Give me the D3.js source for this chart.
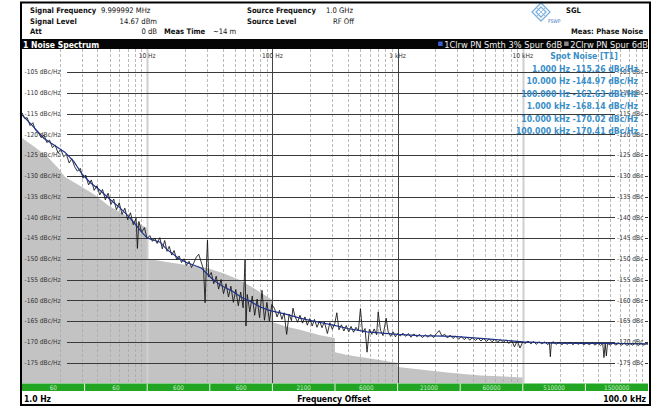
<!DOCTYPE html>
<html><head><meta charset="utf-8">
<script src="https://cdn.jsdelivr.net/npm/d3@7"></script>
<style>
html,body{margin:0;padding:0;background:#fff;}
svg{display:block;}
text{font-family:"DejaVu Sans Condensed","DejaVu Sans","Liberation Sans",sans-serif;}
</style></head>
<body>
<svg id="c" width="656" height="407"></svg>
<script>
// ---------------- data ----------------
const yTicks = [-105,-110,-115,-120,-125,-130,-135,-140,-145,-150,-155,-160,-165,-170,-175];
const decadeLabels = [[10,"10 Hz"],[100,"100 Hz"],[1000,"1 kHz"],[10000,"10 kHz"]];
const segmentLabels = ["60","60","600","600","2100","6000","21000","60000","510000","1500000"];
const spotFreqLabels = ["1.000 Hz","10.000 Hz","100.000 Hz","1.000 kHz","10.000 kHz","100.000 kHz"];
const spotValues = [-115.26,-144.97,-162.63,-168.14,-170.02,-170.41];

// grey area (frequency, dBc of upper edge)
const greyArea = [[1,-120.9],[1.27,-123.1],[1.61,-125.5],[1.94,-128.1],[2.21,-130.3],[3.01,-132.7],[3.83,-134.6],
 [4.86,-137.1],[6.28,-139],[8.0,-141.1],[10,-142.6],[10,-150],[16.1,-151],[30,-152.2],[40,-153.4],[55,-155.1],
 [75,-157.5],[100,-159.9],[100,-165.2],[130,-166.4],[166,-167.1],[240,-168.4],[316,-169.1],[316,-172.5],
 [396,-173.2],[720,-174.4],[1000,-175.1],[1000,-176.1],[2490,-177.4],[4580,-178.1],[10000,-178.6],[10000,-180]];

// trace 1 : smoothed (blue)
const smoothTrace = [[1,-115.3],[1.2,-117.8],[1.5,-121],[1.8,-122.6],[2.2,-124.3],[2.6,-126.6],[3.0,-129.5],
 [3.5,-131.6],[4.2,-133.5],[5,-135.6],[6,-137.6],[7,-139.6],[8,-141.6],[9,-143.5],[10,-145],[11,-145.4],
 [12.7,-146],[14.4,-147.8],[16,-148.8],[18,-150],[21,-151],[24,-151.6],[27,-152.2],[30,-153.6],[34,-155.2],
 [40,-156.6],[48,-157.8],[56,-159.2],[66,-160.2],[80,-161.6],[92,-162.3],[100,-162.6],[130,-163.4],
 [166,-164.3],[220,-165.1],[306,-166],[400,-166.8],[570,-167.6],[1000,-168.2],[1500,-168.5],[2800,-168.7],
 [5200,-169.3],[10000,-170],[17600,-170.3],[30000,-170.4],[50000,-170.4],[100000,-170.5]];

// trace 2 : raw with spurs (black)
const rawTrace = [[1.00,-114.8],[1.05,-116.2],[1.10,-116.0],[1.16,-117.9],[1.22,-117.2],[1.28,-119.0],[1.35,-119.6],
 [1.42,-120.8],[1.50,-120.2],[1.58,-122.0],[1.66,-121.4],[1.75,-123.2],[1.84,-122.6],[1.94,-124.5],[2.04,-123.6],
 [2.15,-125.4],[2.26,-124.8],[2.38,-126.9],[2.50,-125.9],[2.63,-127.8],[2.77,-128.9],[2.92,-128.2],[3.07,-130.6],
 [3.23,-129.8],[3.40,-132.2],[3.58,-131.0],[3.77,-133.5],[3.97,-132.4],[4.18,-134.6],[4.40,-133.3],[4.63,-135.8],
 [4.87,-134.2],[5.13,-136.9],[5.40,-135.6],[5.68,-138.2],[5.98,-136.5],[6.30,-139.3],[6.63,-137.8],[6.98,-140.6],
 [7.35,-138.9],[7.74,-141.8],[8.15,-140.2],[8.35,-147.5],[8.58,-141.0],[9.03,-143.6],[9.50,-142.5],[10.0,-145.2],
 [10.5,-144.4],[11.0,-145.8],[11.5,-145.0],[12.0,-146.3],[12.6,-144.9],[13.2,-147.6],[13.8,-145.6],[14.4,-148.2],
 [15.0,-147.0],[15.7,-149.1],[16.4,-148.0],[17.2,-150.2],[18.0,-149.3],[18.8,-150.9],[19.7,-150.0],[20.6,-151.6],
 [21.6,-150.6],[22.6,-152.1],[23.6,-150.9],[24.7,-149.6],[25.8,-148.9],[27.0,-150.8],[28.2,-152.6],[29.0,-160.6],
 [29.6,-153.0],[30.3,-145.5],[31.0,-154.4],[32.5,-153.3],[34.0,-156.0],[35.6,-154.2],[37.2,-157.3],[38.9,-155.0],
 [40.7,-158.4],[42.6,-156.0],[44.6,-159.2],[46.6,-156.6],[48.8,-160.5],[51.0,-157.4],[53.4,-161.3],[55.8,-158.0],
 [58.4,-161.8],[60.5,-150.3],[61.5,-166.2],[63.0,-158.6],[66.0,-162.8],[69.0,-159.0],[72.2,-163.6],[75.5,-159.7],
 [79.0,-164.2],[82.6,-157.6],[86.4,-164.8],[90.4,-160.5],[94.6,-165.0],[99.0,-161.0],
 [104,-162.0],[109,-164.0],[114,-162.4],[119,-164.6],[124,-163.0],[130,-168.2],[136,-163.3],[142,-164.9],[146,-161.9],
 [152,-164.0],[159,-165.3],[166,-163.6],[174,-165.5],[182,-164.0],[190,-166.0],[199,-164.4],[208,-166.2],[217,-164.6],
 [227,-166.5],[238,-165.0],[249,-166.6],[260,-165.2],[275,-168.0],[288,-165.4],[301,-167.0],[315,-165.6],[327,-163.0],
 [340,-167.1],[356,-165.9],[372,-167.4],[389,-166.1],[407,-167.6],[425,-166.3],[445,-167.7],[465,-166.5],[486,-167.4],
 [505,-162.0],[525,-167.8],[550,-166.8],[570,-172.5],[595,-167.0],[622,-168.2],[650,-166.9],[680,-168.3],[700,-162.8],
 [730,-167.2],[765,-168.5],[810,-164.3],[840,-167.5],[880,-168.7],[920,-167.6],[960,-168.8],[1000,-168.0],
 [1050,-168.6],[1100,-167.9],[1160,-168.7],[1220,-168.0],[1280,-168.9],[1350,-168.1],[1420,-168.8],[1500,-168.2],
 [1580,-169.0],[1660,-168.3],[1750,-168.9],[1840,-168.2],[1940,-169.0],[2040,-168.0],[2150,-167.3],[2260,-168.6],
 [2380,-168.2],[2500,-169.1],[2630,-168.4],[2770,-169.2],[2920,-168.6],[3070,-169.4],[3230,-168.7],[3400,-169.5],
 [3580,-168.9],[3770,-169.6],[3970,-169.0],[4180,-169.7],[4400,-169.1],[4630,-169.8],[4870,-169.2],[5130,-169.9],
 [5400,-169.3],[5680,-170.0],[5980,-169.4],[6300,-170.1],[6630,-169.5],[6980,-170.2],[7350,-169.5],[7740,-170.4],
 [8150,-169.7],[8580,-171.2],[9030,-169.8],[9500,-171.5],[10000,-170.0],
 [10500,-170.4],[11000,-169.8],[11600,-170.5],[12200,-169.9],[12800,-170.6],[13500,-170.0],[14200,-170.5],[15000,-170.0],
 [15800,-170.7],[16300,-170.2],[16600,-173.6],[16900,-170.3],[17500,-170.0],[18500,-170.6],[19500,-170.1],[20500,-170.7],
 [21600,-170.2],[22700,-170.6],[23900,-170.1],[25100,-170.7],[26400,-170.2],[27800,-170.6],[29200,-170.2],[30700,-170.7],
 [32300,-170.3],[34000,-170.7],[35800,-170.2],[37700,-170.8],[39700,-170.3],[41800,-170.9],[43500,-170.4],[44500,-173.8],
 [45500,-170.5],[46500,-173.4],[47500,-170.4],[50000,-170.8],[52600,-170.3],[55400,-170.8],[58300,-170.3],[61400,-170.8],
 [64600,-170.3],[68000,-170.9],[71600,-170.4],[75400,-170.8],[79400,-170.3],[83600,-170.9],[88000,-170.4],[92600,-170.8],
 [97500,-170.4],[100000,-170.6]];

// ---------------- drawing ----------------
const svg = d3.select("#c");
const X0 = 22, X1 = 648, PT = 49, PB = 383.5;
const x = d3.scaleLog().domain([1, 1e5]).range([X0, X1]);
const y = d3.scaleLinear().domain([-100, -180]).range([51.3, 383.3]);

svg.append("rect").attr("width",656).attr("height",407).attr("fill","#fff");

// header
const hdr = svg.append("g").attr("font-size",7.6).attr("fill","#111");
function t(g, xx, yy, s, o = {}) {
  const e = g.append("text").attr("x",xx).attr("y",yy).text(s);
  if (o.bold) e.attr("font-weight","bold");
  if (o.anchor) e.attr("text-anchor",o.anchor);
  if (o.size) e.attr("font-size",o.size);
  if (o.fill) e.attr("fill",o.fill);
  return e;
}
t(hdr,30,13,"Signal Frequency",{bold:1}); t(hdr,101,13,"9.999992 MHz");
t(hdr,30,23.5,"Signal Level",{bold:1}); t(hdr,157,23.5,"14.67 dBm",{anchor:"end"});
t(hdr,30,34,"Att",{bold:1}); t(hdr,157,34,"0 dB",{anchor:"end"});
t(hdr,164,34,"Meas Time",{bold:1}); t(hdr,213,34,"~14 m");
t(hdr,247,13,"Source Frequency",{bold:1}); t(hdr,326,13,"1.0 GHz");
t(hdr,247,23.5,"Source Level",{bold:1}); t(hdr,333,23.5,"RF Off");
t(hdr,566,13,"SGL",{bold:1});
t(hdr,571,34,"Meas: Phase Noise",{bold:1});
// logo
const logo = svg.append("g").attr("fill","none").attr("stroke","#7ab0dc").attr("stroke-width",1.3);
logo.append("path").attr("d","M541,3 L550,12 L541,21 L532,12 Z");
logo.append("path").attr("d","M541,7 L546,12 L541,17 L536,12 Z");
logo.append("path").attr("d","M536.5,7.5 L545.5,16.5 M545.5,7.5 L536.5,16.5").attr("stroke-width",0.8);
t(svg,548,23,"FSWP",{size:5,fill:"#3c78c0"});

// black title bar
svg.append("rect").attr("x",X0).attr("y",39).attr("width",X1-X0).attr("height",10).attr("fill","#050505");
t(svg,23,47.5,"1 Noise Spectrum",{bold:1,fill:"#fff",size:8.5});
const leg2 = t(svg,648,47.8,"2Clrw PN Spur 6dB",{anchor:"end",fill:"#eee",size:9.2});
const w2 = leg2.node().getComputedTextLength();
svg.append("rect").attr("x",648-w2-6).attr("y",41.5).attr("width",4.5).attr("height",4.5).attr("fill","#888");
const leg1 = t(svg,648-w2-8,47.8,"1Clrw PN Smth 3% Spur 6dB",{anchor:"end",fill:"#eee",size:9.2});
const w1 = leg1.node().getComputedTextLength();
svg.append("rect").attr("x",648-w2-8-w1-6).attr("y",41.5).attr("width",4.5).attr("height",4.5).attr("fill","#3a5fd0");

// plot
const plot = svg.append("g");
plot.append("defs").append("clipPath").attr("id","clip").append("rect")
  .attr("x",X0).attr("y",PT).attr("width",X1-X0).attr("height",PB-PT);
const pg = plot.append("g").attr("clip-path","url(#clip)");

// grey area
pg.append("path").datum(greyArea)
  .attr("d", d3.area().x(d=>x(d[0])).y0(PB).y1(d=>y(d[1])))
  .attr("fill","#c3c3c3");

// vertical grid
const minors = [];
for (let d = 0; d < 5; d++) for (let m = 2; m <= 9; m++) minors.push(m*Math.pow(10,d));
pg.selectAll(".vmin").data(minors).join("line")
  .attr("x1",d=>Math.round(x(d))+0.5).attr("x2",d=>Math.round(x(d))+0.5).attr("y1",PT).attr("y2",PB)
  .attr("stroke","#a8a8a8").attr("stroke-width",0.8).attr("stroke-dasharray","3,2");
pg.selectAll(".vmaj").data([10,100,1000,10000]).join("line")
  .attr("x1",d=>Math.round(x(d))+0.5).attr("x2",d=>Math.round(x(d))+0.5).attr("y1",PT).attr("y2",PB)
  .attr("stroke",d=>(d===100||d===1000)?"#444":"#cfcfcf")
  .attr("stroke-width",d=>(d===100||d===1000)?1:2);

// horizontal grid + labels
pg.selectAll(".hg").data(yTicks).join("line")
  .attr("x1",67).attr("x2",615).attr("y1",d=>Math.round(y(d))+0.5).attr("y2",d=>Math.round(y(d))+0.5)
  .attr("stroke","#3a3a3a").attr("stroke-width",1);
pg.selectAll(".ht").data(yTicks).join("line")
  .attr("x1",645).attr("x2",648).attr("y1",d=>Math.round(y(d))+0.5).attr("y2",d=>Math.round(y(d))+0.5)
  .attr("stroke","#3a3a3a");
const lab = svg.append("g").attr("font-size",6.6).attr("fill","#333");
lab.selectAll(".yl").data(yTicks).join("text").attr("x",24.5).attr("y",d=>y(d)+2.4).text(d=>d+" dBc/Hz");
lab.selectAll(".yr").data(yTicks).join("text").attr("x",617).attr("y",d=>y(d)+2.4).text(d=>d+" dBc");
lab.selectAll(".xl").data(decadeLabels).join("text").attr("x",d=>x(d[0])).attr("y",57.5)
  .attr("text-anchor","middle").text(d=>d[1]);

// traces
const line = d3.line().x(d=>x(d[0])).y(d=>y(d[1]));
pg.append("path").datum(rawTrace).attr("d",line).attr("fill","none").attr("stroke","#111").attr("stroke-width",0.85);
pg.append("path").datum(smoothTrace).attr("d",line).attr("fill","none").attr("stroke","#1e3388").attr("stroke-width",1.2);

// spot noise table
const sp = svg.append("g").attr("fill","#3a8ec8").attr("font-weight","bold").attr("font-size",8.6);
t(sp,584,58.5,"Spot Noise [T1]",{anchor:"middle"});
sp.selectAll(".sf").data(spotFreqLabels).join("text").attr("x",570).attr("y",(d,i)=>72+i*12.4)
  .attr("text-anchor","end").text(d=>d);
sp.selectAll(".sv").data(spotValues).join("text").attr("x",572.5).attr("y",(d,i)=>72+i*12.4)
  .text(d=>d.toFixed(2)+" dBc/Hz");

// green segment bar
const segB = d3.range(11).map(k=>Math.pow(10,k/2));
const gb = svg.append("g");
gb.append("rect").attr("x",X0).attr("y",PB).attr("width",X1-X0).attr("height",7.5).attr("fill","#22a522");
gb.selectAll(".sep").data(segB.slice(1,10)).join("line")
  .attr("x1",d=>x(d)).attr("x2",d=>x(d)).attr("y1",PB).attr("y2",PB+7.5).attr("stroke","#e8f5e8").attr("stroke-width",1);
gb.selectAll(".sl").data(segmentLabels).join("text")
  .attr("x",(d,i)=>(x(segB[i])+x(segB[i+1]))/2).attr("y",PB+6.6).attr("text-anchor","middle")
  .attr("font-size",6.3).attr("fill","#cdeccd").text(d=>d);

// bottom strip
t(svg,24,401.5,"1.0 Hz",{bold:1,size:8.5});
t(svg,334,401.5,"Frequency Offset",{bold:1,size:8.5,anchor:"middle"});
t(svg,646,401.5,"100.0 kHz",{bold:1,size:8.5,anchor:"end"});

// frame
svg.append("rect").attr("x",21).attr("y",2.5).attr("width",629).attr("height",402.5)
  .attr("fill","none").attr("stroke","#000").attr("stroke-width",2);
</script>
</body></html>
